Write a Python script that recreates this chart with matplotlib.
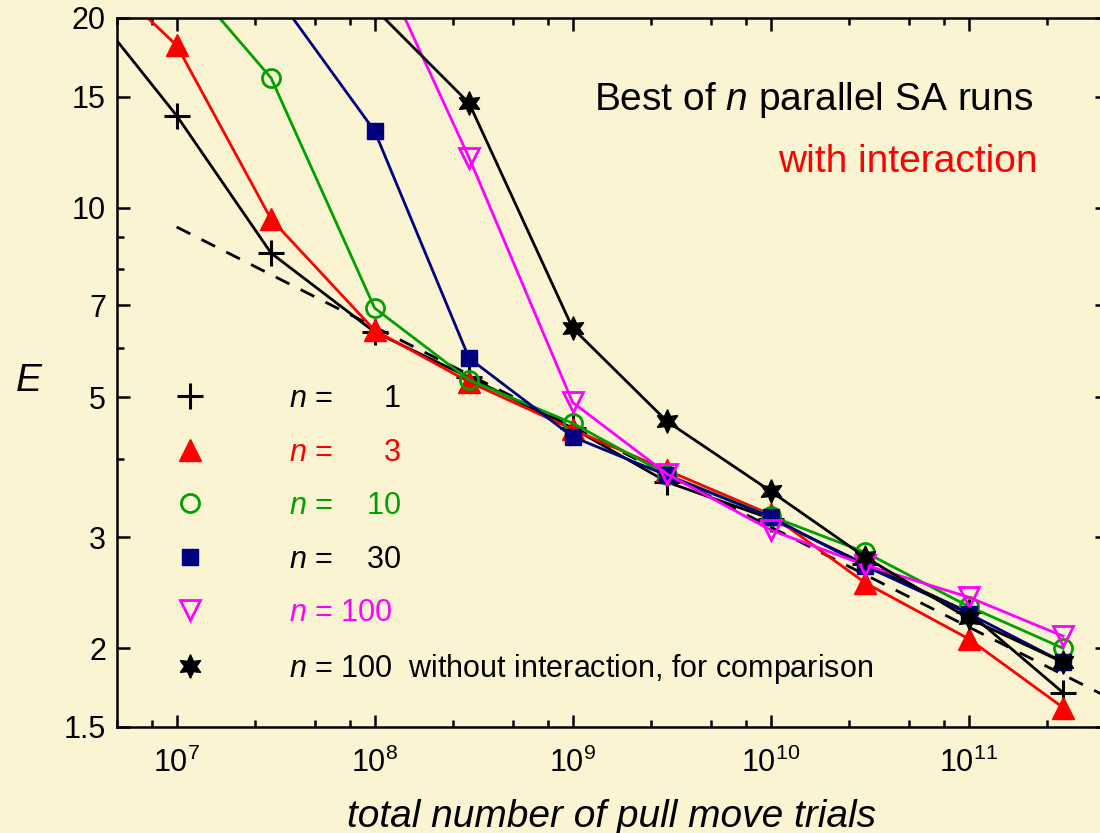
import matplotlib
matplotlib.use("Agg")
import matplotlib.pyplot as plt
from matplotlib.lines import Line2D
from matplotlib.ticker import FixedLocator, NullFormatter, FixedFormatter

plt.rcParams['font.family'] = ['Liberation Sans', 'DejaVu Sans']
plt.rcParams['mathtext.fontset'] = 'custom'
plt.rcParams['mathtext.rm'] = 'Liberation Sans'
plt.rcParams['mathtext.it'] = 'Liberation Sans:italic'

# total number of pull move trials
trials = [3e6, 1e7, 3e7, 1e8, 3e8, 1e9, 3e9, 1e10, 3e10, 1e11, 3e11]

# best energy E for n parallel SA runs (with interaction)
e_n1 = [22.5, 14.0, 8.47, 6.35, 5.38, 4.47, 3.67, 3.21, 2.72, 2.28, 1.70]
e_n3 = [25.9, 18.1, 9.59, 6.39, 5.29, 4.45, 3.83, 3.26, 2.54, 2.07, 1.61]
e_n10 = [24.0, 16.06, 6.93, 5.33, 4.55, 3.77, 3.24, 2.84, 2.33, 2.00]
e_n30 = [22.3, 13.23, 5.77, 4.33, 3.76, 3.23, 2.70, 2.27, 1.90]
e_n100 = [25.4, 12.0, 4.91, 3.78, 3.08, 2.71, 2.41, 2.09]
# n = 100 without interaction
e_n100_free = [20.7, 14.65, 6.44, 4.58, 3.55, 2.79, 2.23, 1.90]

# power-law guide line (dashed)
fit_x = [1e7, 1e12]
fit_e = [9.32, 1.50]

bg = '#faf4d2'
fig = plt.figure(figsize=(11, 8.33), dpi=100, facecolor=bg)
ax = fig.add_axes([0.1064, 0.1273, 0.9, 0.8511], facecolor=bg)

ax.plot(fit_x, fit_e, color='black', lw=2.0, dashes=(5.5, 4.5))

lw = 2.0
ax.plot(trials, e_n1, color='black', lw=lw, marker='+', ms=19, mew=2.2)
ax.plot(trials, e_n3, color='red', lw=lw, marker='^', ms=16)
ax.plot(trials[1:], e_n10, color='#00a000', lw=lw, marker='o', ms=13,
        mfc='none', mew=2)
ax.plot(trials[2:], e_n30, color='#000080', lw=lw, marker='s', ms=12)
ax.plot(trials[3:], e_n100, color='#ff00ff', lw=lw, marker='v', ms=15,
        mfc='none', mew=2)
ax.plot(trials[3:], e_n100_free, color='black', lw=lw, marker=(6, 1, 0), ms=17)

ax.set_xscale('log')
ax.set_yscale('log')
ax.set_xlim(5e6, 5e11)
ax.set_ylim(1.5, 20)

# y ticks
yt = [1.5, 2, 3, 5, 7, 10, 15, 20]
ax.yaxis.set_major_locator(FixedLocator(yt))
ax.yaxis.set_major_formatter(FixedFormatter(['1.5', '2', '3', '5', '7', '10', '15', '20']))
ax.yaxis.set_minor_locator(FixedLocator([4, 6, 8, 9]))
ax.yaxis.set_minor_formatter(NullFormatter())

# x minor ticks at 2.5, 5, 7.5 per decade
xminor = [m * 10.0 ** k for k in range(6, 12) for m in (2.5, 5, 7.5)]
ax.xaxis.set_minor_locator(FixedLocator(xminor))
ax.xaxis.set_minor_formatter(NullFormatter())

ax.tick_params(which='both', direction='in', top=True, right=True, width=1.8,
               labelsize=22)
ax.tick_params(axis='y', pad=8)
ax.tick_params(axis='x', pad=15)
ax.tick_params(which='major', length=9)
ax.tick_params(which='minor', length=5)
for s in ax.spines.values():
    s.set_linewidth(1.8)

ax.set_xlabel('total number of pull move trials', fontsize=28, style='italic',
              labelpad=14)
fig.text(0.026, 0.543, 'E', fontsize=28, style='italic', ha='center', va='center')

fig.text(0.939, 0.880, 'Best of $n$ parallel SA runs', fontsize=28, ha='right',
         va='center')
fig.text(0.943, 0.806, 'with interaction', fontsize=28, ha='right', va='center',
         color='red')

handles = [
    Line2D([], [], ls='none', color='black', marker='+', ms=19, mew=2.2),
    Line2D([], [], ls='none', color='red', marker='^', ms=16),
    Line2D([], [], ls='none', color='#00a000', marker='o', ms=13, mfc='none', mew=2),
    Line2D([], [], ls='none', color='#000080', marker='s', ms=12),
    Line2D([], [], ls='none', color='#ff00ff', marker='v', ms=15, mfc='none', mew=2),
    Line2D([], [], ls='none', color='black', marker=(6, 1, 0), ms=17),
]
labels = [
    '$n$ =      1',
    '$n$ =      3',
    '$n$ =    10',
    '$n$ =    30',
    '$n$ = 100',
    '$n$ = 100  without interaction, for comparison',
]
leg = ax.legend(handles, labels, loc='center left', bbox_to_anchor=(0.0505, 0.2710),
                frameon=False, fontsize=22, handlelength=1.5, handletextpad=2.5,
                labelspacing=0.77, borderpad=0, borderaxespad=0, numpoints=1,
                labelcolor=['black', 'red', '#00a000', 'black', '#ff00ff', 'black'])

fig.savefig('out.png', dpi=100, facecolor=bg)
